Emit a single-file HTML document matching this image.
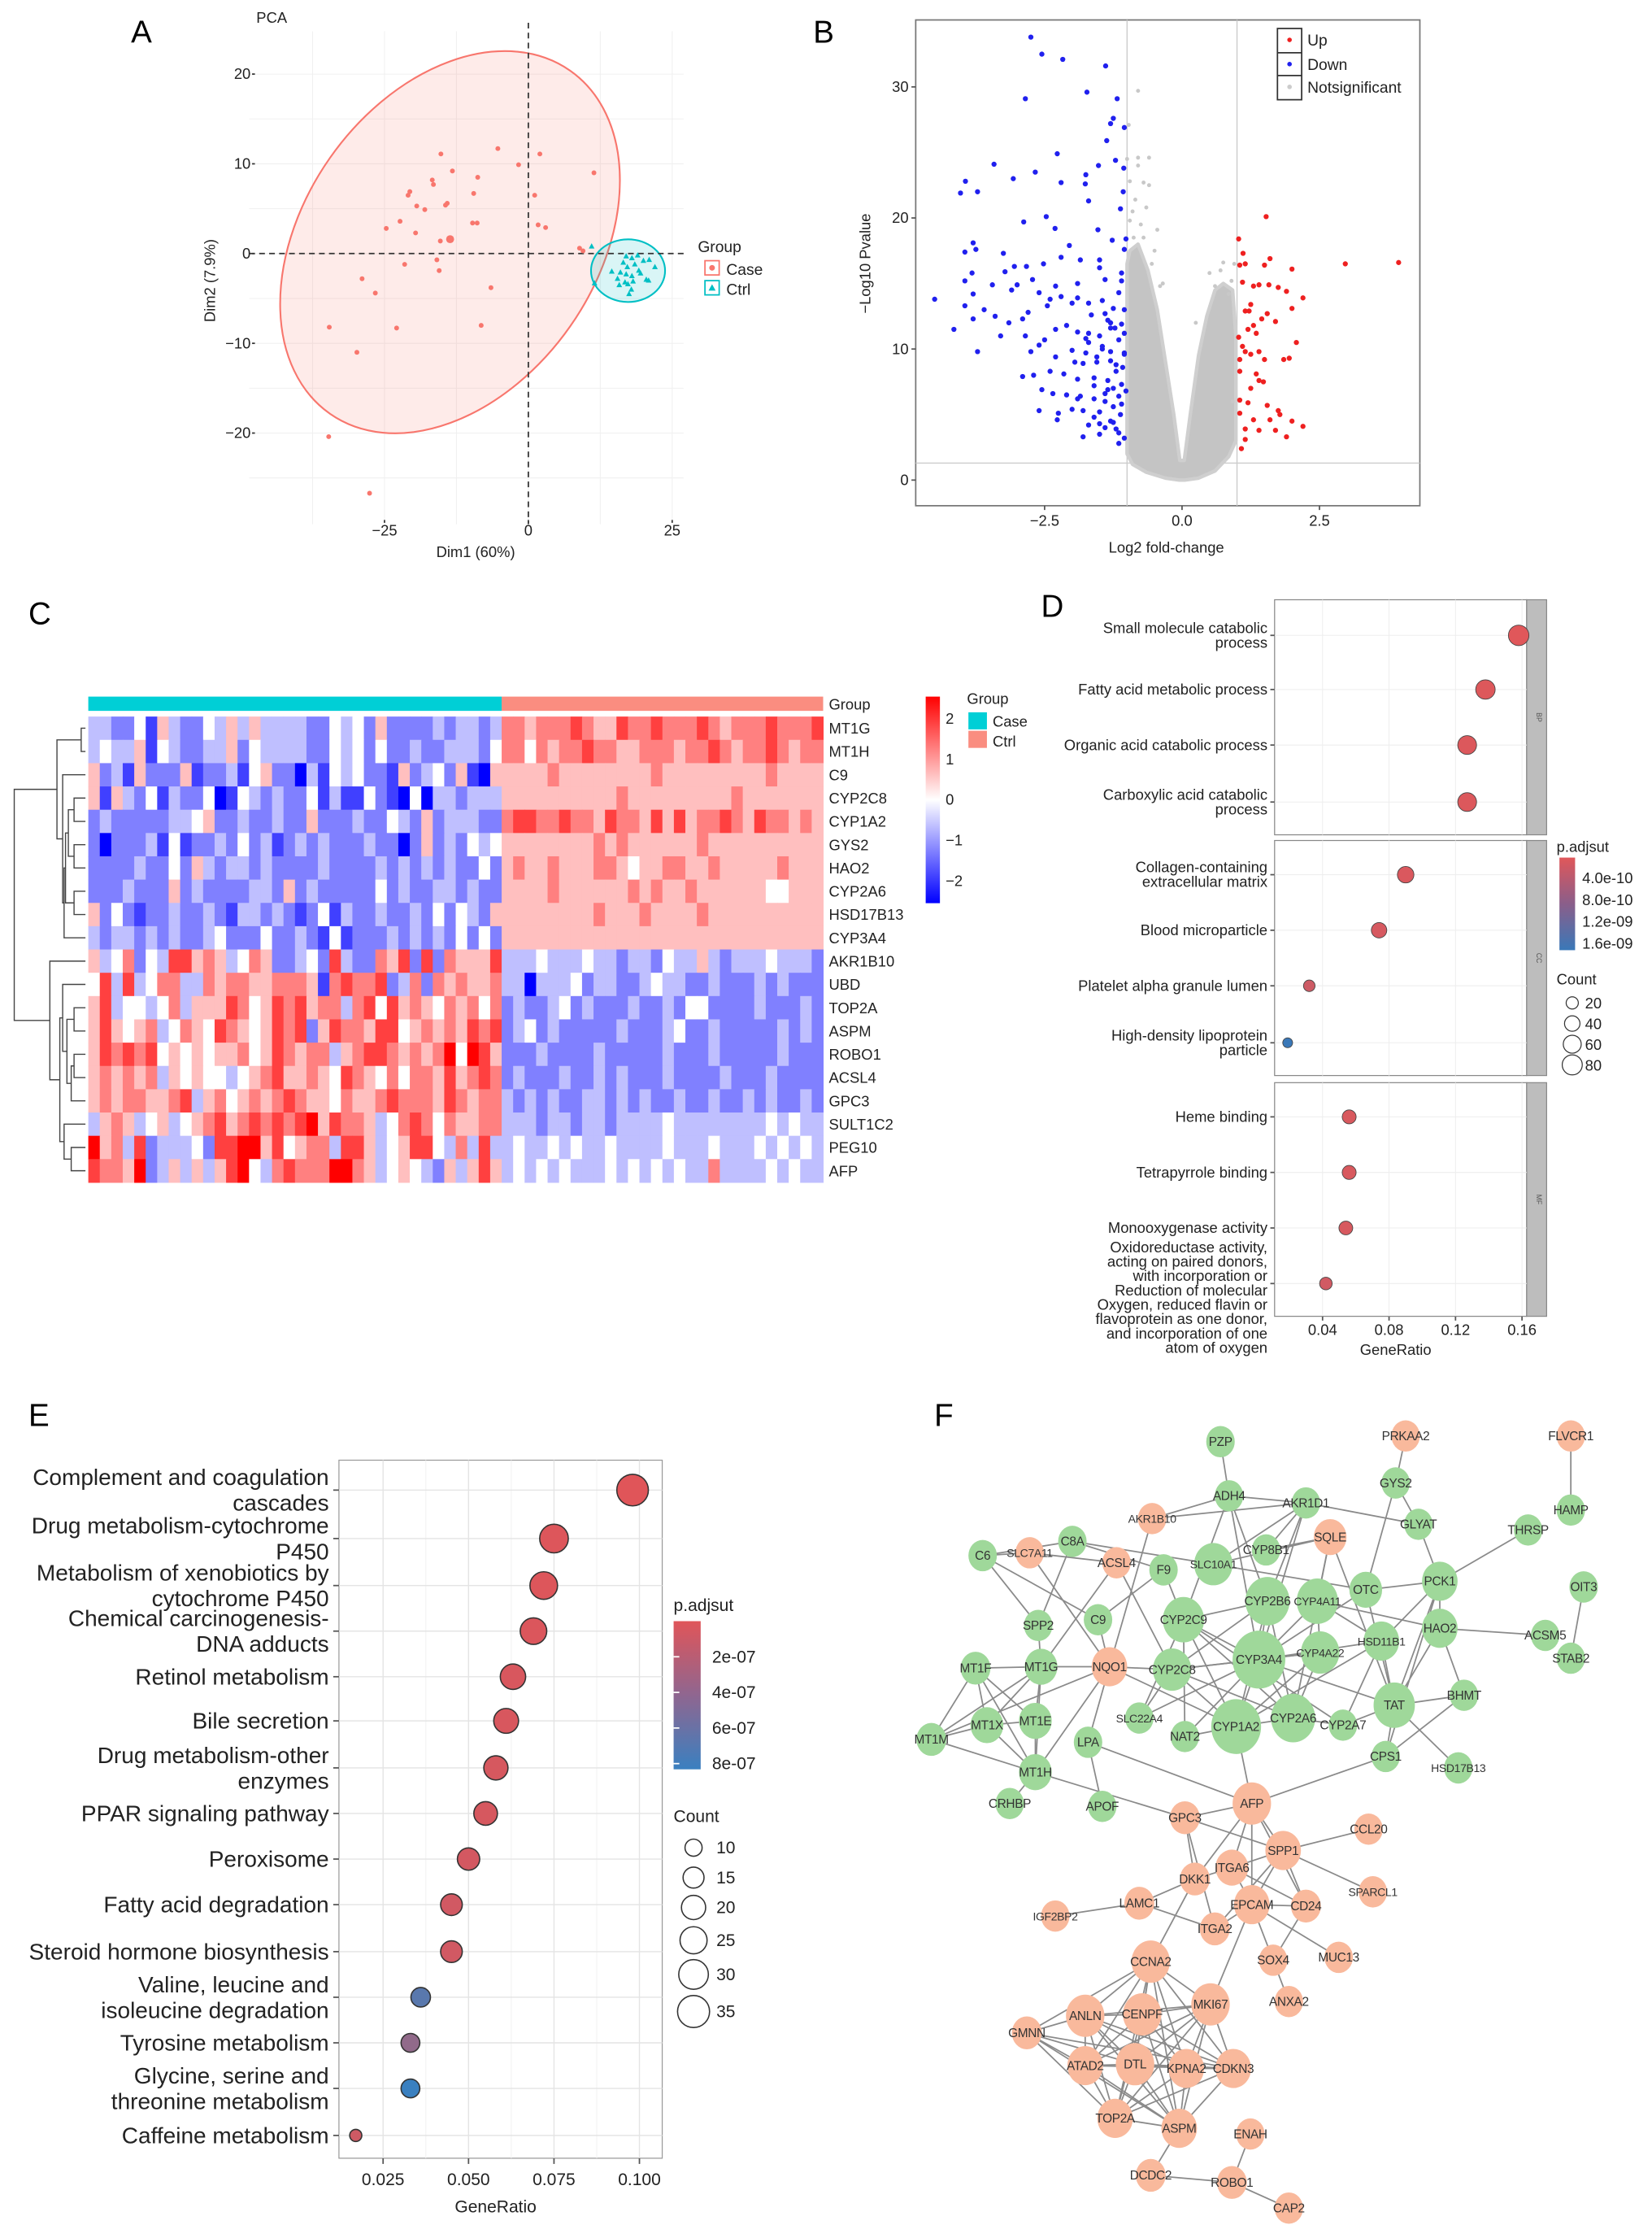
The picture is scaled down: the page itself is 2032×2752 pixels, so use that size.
<!DOCTYPE html>
<html><head><meta charset="utf-8"><style>
html,body{margin:0;padding:0;background:#fff}
svg{display:block;font-family:"Liberation Sans",sans-serif}
</style></head><body>
<svg id="fig" xmlns="http://www.w3.org/2000/svg" width="2032" height="2752" viewBox="0 0 1160 1571" preserveAspectRatio="none">
<rect x="0" y="0" width="1160" height="1571" fill="#fff"/>
<g font-size="22" fill="#000">
<text x="92" y="30">A</text>
<text x="571" y="30">B</text>
<text x="20" y="438">C</text>
<text x="731" y="433">D</text>
<text x="20" y="1001">E</text>
<text x="656" y="1001">F</text>
</g>
<g id="pA"></g>
<g id="pB"></g>
<g id="pC"></g>
<g id="pD"></g>
<g id="pE"></g>
<g id="pF"></g>
</svg>
<script>
// ---------- DATA ----------
// Panel A (PCA)
const pcaCaseX=[-5.3,-15.2,2,-1.7,11.4,-13.2,-8.8,-16.7,-16.5,-20.6,-20.9,-9.5,1.1,-14.1,-14.4,-19.4,-18,-22.3,-9.7,-8.9,1.7,3,-24.7,-19.6,-15.3,-13.6,8.9,9.5,-15.9,-21.5,-15.5,-28.9,-6.5,-26.6,-8.2,-34.6,-22.9,-29.8,-34.7,-27.6];
const pcaCaseY=[11.7,11.1,11.1,9.9,9.0,9.2,8.5,8.2,7.7,6.9,6.5,6.7,6.5,5.6,5.4,5.3,4.9,3.6,3.4,3.4,3.2,2.9,2.8,2.3,1.4,1.6,0.6,0.3,-0.7,-1.2,-1.9,-2.8,-3.8,-4.4,-8,-8.2,-8.3,-11,-20.4,-26.7];
const pcaCtrlX=[11,17,18,19,20,16.5,17.2,18.5,21,22,14.5,15.5,16,17,18,19.5,20.5,16.8,17.3,18.2,15.8,17.9,20.9,11.5,17.5,19.2];
const pcaCtrlY=[0.8,-0.3,-0.5,-0.2,-0.8,-1,-1.5,-1.2,-0.7,-1.5,-2,-2.8,-2.1,-2.3,-2.5,-2.2,-2.9,-3.2,-3.4,-3.1,-3.5,-4.0,-3.0,-3.3,-4.5,-1.9];
const pcaXTicks=[-25,0,25];
const pcaYTicks=[-20,-10,0,10,20];
// Panel B (volcano)
const downX=[-2.75,-2.55,-2.17,-1.39,-2.85,-1.73,-1.18,-1.25,-1.3,-1.05,-1.37,-2.27,-3.42,-1.52,-1.21,-1.06,-2.67,-3.07,-3.94,-4.03,-3.72,-2.2,-1.76,-1.75,-1.7,-1.07,-1.12,-2.47,-2.88,-2.31,-1.53,-1.27,-1.02,-3.8,-3.75,-3.95,-3.25,-2.05,-2.2,-1.85,-1.5,-1.05,-3.05,-2.83,-2.52,-3.22,-3.82,-3.95,-3.45,-3.0,-3.1,-2.72,-2.3,-1.9,-1.4,-1.1,-4.5,-3.8,-3.95,-3.6,-3.8,-3.4,-3.15,-2.8,-2.9,-2.6,-2.4,-2.2,-2.45,-2.0,-1.9,-1.7,-1.45,-1.25,-4.15,-3.3,-2.85,-2.5,-2.3,-2.1,-1.9,-1.7,-1.5,-1.3,-1.1,-1.15,-3.72,-2.75,-2.6,-2.3,-2.0,-1.75,-1.55,-1.3,-1.05,-2.9,-2.7,-2.4,-2.15,-1.9,-1.6,-1.35,-1.1,-2.55,-2.35,-2.1,-1.85,-1.6,-1.4,-1.15,-2.6,-2.25,-2.0,-1.8,-1.5,-1.25,-2.27,-1.7,-1.4,-1.2,-1.8,-1.5,-1.15,-1.05,-1.3,-1.6,-1.2,-1.45,-1.65,-1.35,-1.08,-1.55,-1.25,-1.12,-1.4,-1.7,-1.95,-1.15,-1.5,-1.3,-1.05,-1.2,-1.35,-1.1,-1.45,-1.6,-1.25,-1.05,-1.8,-1.15,-1.4,-1.02,-1.3,-1.5,-1.75,-1.1,-1.22,-1.05,-1.9];
const downY=[33.8,32.5,32.1,31.6,29.1,29.6,29.1,27.6,27.2,26.9,25.9,24.9,24.1,24,24.4,23.8,23.5,23,22.8,21.9,22,22.7,22.6,23.3,21.3,22,20.7,20.1,19.7,19.2,19.1,18.3,18.4,18.1,17.6,17.4,17.3,17.9,17,16.8,16.8,17.6,16.3,16.3,16.5,15.9,15.8,15.2,14.9,14.9,14.5,15.3,14.8,15,15.3,15.2,13.8,14.2,13.3,13,12.3,12.5,12,12.8,12.3,14.3,13.8,14,13.3,13.5,13.9,13.5,13.7,13.1,11.5,11,11,10.7,11.5,11.8,11.3,11.2,11,11.6,11.9,10.7,9.8,9.8,10.3,9.4,9.9,9.7,9.4,9.8,9.6,7.9,8,8.3,8.1,7.7,7.8,7.6,7.3,6.9,6.6,6.5,6.4,6.2,6.6,6.4,5.3,5.1,5.4,5.3,5.2,5.6,4.6,4.2,4.0,3.9,3.3,3.5,2.8,3.2,4.5,4.8,8.8,10.2,12.6,12.2,8.6,9,7,5,6,10.5,9,14.3,16.2,12,11.2,8.3,6.9,5.8,10,7.2,4.4,13,8.9,3.6,12.7,6.8,9.1,4.3,10.8,15.8,11.6,9.7,6.2];
const upX=[1.03,1.53,1.11,1.6,1.05,1.15,1.5,2.0,2.97,3.94,1.1,1.3,1.4,1.58,1.75,1.9,2.2,1.25,1.15,1.22,1.55,2.0,1.45,1.7,1.3,1.2,1.35,1.03,1.1,2.08,1.15,1.25,1.4,1.5,1.85,1.95,1.05,1.05,1.35,1.4,1.48,1.25,1.05,1.2,1.55,1.75,1.78,1.05,1.3,1.6,2.0,2.2,1.15,1.4,1.7,1.9,1.15,1.08];
const upY=[18.4,20.1,17.3,16.9,16.4,16.5,16.4,16.1,16.5,16.6,15.1,14.8,14.9,14.9,14.7,14.4,13.9,13.4,12.9,12.9,12.7,13.1,12.3,12.1,11.8,11.5,11.2,10.9,10.2,10.5,9.8,9.6,9.8,9.2,9.2,9.3,9.2,8.3,8.1,7.6,7.5,7,6.1,5.9,5.7,5.3,5,5.1,4.6,4.6,4.5,4.1,3.9,3.8,3.8,3.3,3.1,2.4];
const nsX=[-0.8,-0.97,-1,-0.8,-0.6,-0.8,-0.95,-0.7,-0.6,-0.85,-0.95,-0.45,-0.7,-0.5,0.5,0.75,0.95,0.9,-0.9,-0.75,-0.65,0.85,0.92,0.7,-0.35,0.25,-0.55,-0.4,-0.88,0.6];
const nsY=[29.7,27.1,24.5,24.6,24.6,24,22.8,22.7,22.5,21.4,19.8,19.1,18.5,17.5,15.8,16.6,16.5,15.2,20.5,19.5,20.8,14.2,6,16,15,12,16.5,14.8,18.5,14.8];
const cloudX=[-1,-1,-0.95,-0.8,-0.62,-0.45,-0.3,-0.15,-0.04,0.04,0.15,0.3,0.45,0.6,0.75,0.92,0.98,0.98,0.85,0.6,0.3,0.05,-0.05,-0.3,-0.65,-0.9];
const cloudY=[2,16.5,17.5,18,16,13,9,5,1.5,1.5,5,9.5,12.5,14.5,15,14.5,11,3,1.8,0.7,0.15,0,0,0.15,0.6,1.2];
const volXTicks=[-2.5,0,2.5];
const volXLabels=["\u22122.5","0.0","2.5"];
const volYTicks=[0,10,20,30];
// Panel C (heatmap) levels 0..8 => -2..2
const genes=["MT1G","MT1H","C9","CYP2C8","CYP1A2","GYS2","HAO2","CYP2A6","HSD17B13","CYP3A4","AKR1B10","UBD","TOP2A","ASPM","ROBO1","ACSL4","GPC3","SULT1C2","PEG10","AFP"];
const heatRows=[
"332241532243535333322434252222323323"+"6656667655766766676566676667",
"343351432233524333322434242232233324"+"6646566766556665667656676566",
"523152225122314522031434221523425105"+"5555655555555655555555565555",
"515324132240143232241311421040332333"+"5555555555655555555565555555",
"232222233452232232252223224325233322"+"6776676657665757566765766565",
"202223141223242312323222322025232434"+"5555555565655555565555555555",
"222232242532332322223222232323232242"+"5655655566545566556555556555",
"222322252322223325232222242322332322"+"5555655555565655655555544555",
"524212232232133232124132232232424325"+"5555555565556555565555555555",
"323323232234222422321412223232324242"+"5555555555555555555555555555",
"534624377565346522342732265727265557"+"3334333433233243353233343332",
"473734663365665566651676672362656556"+"3303334233223433223222323222",
"573443463555764576756636747565465646"+"2322342322232232442222322232",
"575456346547654576725766577456565767"+"2342322222322234223222223232",
"576767454545564576566356776565684875"+"2223222232222232223222223222",
"565656354544345675565476546466575676"+"2322232232322232222322232222",
"565665567356456567655465567666576566"+"3232322332323223223223232232",
"356534534567567676785766534676465566"+"3332332332333343333333343433",
"856372333427788574566377534577436373"+"3433434334333343334333434343",
"766582353535784367666886534543253575"+"3434343334343434336333343433"];
const nCase=36, nCtrl=28;
const heatLegendTicks=[2,1,0,-1,-2];
// Panel D (GO)
const goTerms=[["Small molecule catabolic","process"],["Fatty acid metabolic process"],["Organic acid catabolic process"],["Carboxylic acid catabolic","process"],["Collagen-containing","extracellular matrix"],["Blood microparticle"],["Platelet alpha granule lumen"],["High-density lipoprotein","particle"],["Heme binding"],["Tetrapyrrole binding"],["Monooxygenase activity"],["Oxidoreductase activity,","acting on paired donors,","with incorporation or","Reduction of molecular","Oxygen, reduced flavin or","flavoprotein as one donor,","and incorporation of one","atom of oxygen"]];
const goRatio=[0.158,0.138,0.127,0.127,0.090,0.074,0.032,0.019,0.056,0.056,0.054,0.042];
const goCount=[85,74,68,68,48,40,17,10,30,30,29,22];
const goPadj=[3.0e-10,3.2e-10,3.3e-10,3.3e-10,3.5e-10,3.8e-10,4.5e-10,1.6e-9,3.6e-10,3.6e-10,3.7e-10,4.2e-10];
const goOnto=["BP","BP","BP","BP","CC","CC","CC","CC","MF","MF","MF","MF"];
const goXTicks=[0.04,0.08,0.12,0.16];
// Panel E (KEGG)
const keggTerms=[["Complement and coagulation","cascades"],["Drug metabolism-cytochrome","P450"],["Metabolism of xenobiotics by","cytochrome P450"],["Chemical carcinogenesis-","DNA adducts"],["Retinol metabolism"],["Bile secretion"],["Drug metabolism-other","enzymes"],["PPAR signaling pathway"],["Peroxisome"],["Fatty acid degradation"],["Steroid hormone biosynthesis"],["Valine, leucine and","isoleucine degradation"],["Tyrosine metabolism"],["Glycine, serine and","threonine metabolism"],["Caffeine metabolism"]];
const keggRatio=[0.098,0.075,0.072,0.069,0.063,0.061,0.058,0.055,0.050,0.045,0.045,0.036,0.033,0.033,0.017];
const keggCount=[34,28,26,24,22,21,20,19,17,16,16,13,12,12,5];
const keggPadj=[1.5e-7,1.6e-7,1.6e-7,1.7e-7,1.8e-7,1.8e-7,1.9e-7,1.9e-7,2.0e-7,2.1e-7,2.1e-7,6.8e-7,4.6e-7,8.0e-7,2.2e-7];
const keggXTicks=[0.025,0.050,0.075,0.100];
// Panel F (network)
const nodes=[["PZP",857,1012,"g"],["PRKAA2",987,1008,"o"],["FLVCR1",1103,1008,"o"],["GYS2",980,1041,"g"],["ADH4",863,1050,"g"],["AKR1D1",917,1055,"g"],["HAMP",1103,1060,"g"],["AKR1B10",809,1066,"o"],["GLYAT",996,1070,"g"],["THRSP",1073,1074,"g"],["SQLE",934,1079,"o"],["C8A",753,1082,"g"],["C6",690,1092,"g"],["SLC7A11",723,1090,"o"],["CYP8B1",889,1088,"g"],["ACSL4",784,1097,"o"],["F9",817,1102,"g"],["SLC10A1",852,1098,"g"],["PCK1",1011,1110,"g"],["OIT3",1112,1114,"g"],["OTC",959,1116,"g"],["CYP2B6",890,1124,"g"],["CYP4A11",925,1124,"g"],["CYP2C9",831,1137,"g"],["C9",771,1137,"g"],["SPP2",729,1141,"g"],["HAO2",1011,1143,"g"],["ACSM5",1085,1148,"g"],["HSD11B1",970,1152,"g"],["CYP3A4",884,1165,"g"],["CYP4A22",927,1160,"g"],["STAB2",1103,1164,"g"],["MT1F",685,1171,"g"],["MT1G",731,1170,"g"],["NQO1",779,1170,"o"],["CYP2C8",823,1172,"g"],["BHMT",1028,1190,"g"],["TAT",979,1197,"g"],["MT1X",693,1211,"g"],["MT1E",727,1208,"g"],["SLC22A4",800,1206,"g"],["NAT2",832,1219,"g"],["CYP1A2",868,1212,"g"],["CYP2A6",908,1206,"g"],["CYP2A7",943,1211,"g"],["MT1M",654,1221,"g"],["LPA",764,1223,"g"],["CPS1",973,1233,"g"],["HSD17B13",1024,1241,"g"],["MT1H",727,1244,"g"],["CRHBP",709,1266,"g"],["APOF",774,1268,"g"],["GPC3",832,1276,"o"],["AFP",879,1266,"o"],["CCL20",961,1284,"o"],["SPP1",901,1299,"o"],["ITGA6",865,1311,"o"],["DKK1",839,1319,"o"],["SPARCL1",964,1328,"o"],["LAMC1",800,1336,"o"],["EPCAM",879,1337,"o"],["CD24",917,1338,"o"],["IGF2BP2",741,1345,"o"],["ITGA2",853,1354,"o"],["SOX4",894,1376,"o"],["MUC13",940,1374,"o"],["CCNA2",808,1377,"o"],["ANXA2",905,1405,"o"],["MKI67",850,1407,"o"],["ANLN",762,1415,"o"],["CENPF",802,1414,"o"],["GMNN",721,1427,"o"],["ATAD2",762,1450,"o"],["DTL",797,1449,"o"],["KPNA2",833,1452,"o"],["CDKN3",866,1452,"o"],["TOP2A",783,1487,"o"],["ASPM",828,1494,"o"],["ENAH",878,1498,"o"],["DCDC2",808,1527,"o"],["ROBO1",865,1532,"o"],["CAP2",905,1550,"o"]];
const bigNodes={"CYP3A4":18,"CYP1A2":17,"CYP2A6":15,"CYP2B6":15,"CYP4A11":14,"CYP2C9":14,"CYP2C8":13,"TAT":14,"SLC10A1":13,"AFP":13,"CCNA2":13,"MKI67":13,"ANLN":13,"CENPF":13,"DTL":13,"ATAD2":12,"TOP2A":12,"ASPM":12,"KPNA2":12,"CDKN3":12,"EPCAM":12,"SPP1":12,"NQO1":12,"HSD11B1":12,"CYP4A22":13,"PCK1":12,"HAO2":12,"OTC":11,"MT1G":11,"MT1H":11,"MT1E":11,"MT1X":11,"MT1F":10,"MT1M":10,"SQLE":11,"ITGA6":11,"ITGA2":10,"CD24":10,"DKK1":10,"GPC3":10,"LAMC1":10,"GMNN":10,"ROBO1":10,"DCDC2":10};
const edgeText="PZP-ADH4 PRKAA2-GYS2 FLVCR1-HAMP GYS2-GLYAT GYS2-OTC ADH4-AKR1B10 ADH4-AKR1D1 AKR1B10-AKR1D1 AKR1D1-GLYAT AKR1B10-NQO1 AKR1D1-CYP8B1 AKR1D1-SLC10A1 AKR1D1-CYP2B6 AKR1D1-CYP3A4 ADH4-CYP2B6 ADH4-CYP3A4 ADH4-CYP2C9 GLYAT-PCK1 THRSP-PCK1 C6-SLC7A11 C6-C8A C6-SPP2 C6-C9 C8A-F9 C8A-SPP2 SLC7A11-ACSL4 SLC7A11-NQO1 C8A-SLC10A1 SLC10A1-SQLE CYP8B1-SQLE SLC10A1-OTC F9-C9 F9-CYP2C9 ACSL4-MT1G ACSL4-CYP2C8 SQLE-CYP4A11 SQLE-TAT SQLE-CYP2A6 OTC-PCK1 OTC-TAT OTC-CYP3A4 PCK1-HAO2 PCK1-TAT PCK1-HSD11B1 PCK1-CPS1 HAO2-ACSM5 HAO2-CYP4A11 HAO2-BHMT HAO2-TAT OIT3-STAB2 CYP2B6-CYP2C9 CYP2B6-CYP3A4 CYP2B6-CYP1A2 CYP2B6-CYP2A6 CYP2B6-CYP2C8 CYP4A11-CYP4A22 CYP4A11-HSD11B1 CYP4A11-CYP3A4 CYP2C9-CYP3A4 CYP2C9-CYP1A2 CYP2C9-CYP2A6 CYP2C9-SLC22A4 CYP2C9-NAT2 CYP2C9-CYP2A7 CYP3A4-CYP2C8 CYP3A4-CYP1A2 CYP3A4-CYP2A6 CYP3A4-CYP4A22 CYP3A4-NAT2 CYP3A4-HSD11B1 CYP3A4-TAT CYP3A4-SLC22A4 CYP2C8-CYP1A2 CYP2C8-CYP2A6 CYP2C8-NQO1 CYP2C8-SLC22A4 CYP2C8-CYP4A22 CYP1A2-CYP2A6 CYP1A2-NAT2 CYP1A2-HSD11B1 CYP1A2-CYP4A22 CYP1A2-AFP CYP2A6-CYP2A7 CYP2A6-CYP4A22 CYP2A7-TAT CYP2A7-HSD11B1 TAT-BHMT TAT-CPS1 TAT-HSD17B13 TAT-HSD11B1 BHMT-CPS1 CPS1-AFP NQO1-MT1G MT1F-MT1G MT1F-MT1M MT1F-MT1X MT1F-MT1E MT1F-MT1H MT1G-MT1X MT1G-MT1M MT1G-MT1E MT1G-MT1H MT1X-MT1E MT1X-MT1M MT1X-MT1H MT1E-MT1H MT1M-MT1H MT1M-NQO1 MT1H-NQO1 MT1H-GPC3 MT1H-CRHBP NQO1-CYP1A2 NQO1-LPA SPP2-MT1G C9-NQO1 LPA-APOF LPA-AFP AFP-GPC3 AFP-SPP1 AFP-ITGA6 AFP-DKK1 AFP-EPCAM AFP-CD24 GPC3-SPP1 GPC3-DKK1 GPC3-ITGA2 SPP1-CCL20 SPP1-SPARCL1 SPP1-ITGA6 SPP1-EPCAM SPP1-CD24 SPP1-ITGA2 ITGA6-EPCAM ITGA6-DKK1 ITGA6-CD24 DKK1-LAMC1 DKK1-CCNA2 LAMC1-IGF2BP2 LAMC1-ITGA2 EPCAM-CD24 EPCAM-ITGA2 EPCAM-SOX4 EPCAM-MUC13 EPCAM-MKI67 CD24-SOX4 SOX4-ANXA2 CCNA2-ANLN CCNA2-CENPF CCNA2-MKI67 CCNA2-GMNN CCNA2-ATAD2 CCNA2-DTL CCNA2-KPNA2 CCNA2-CDKN3 CCNA2-TOP2A CCNA2-ASPM ANLN-CENPF ANLN-GMNN ANLN-ATAD2 ANLN-DTL ANLN-KPNA2 ANLN-CDKN3 ANLN-TOP2A ANLN-ASPM ANLN-MKI67 CENPF-MKI67 CENPF-DTL CENPF-ATAD2 CENPF-KPNA2 CENPF-CDKN3 CENPF-TOP2A CENPF-ASPM MKI67-DTL MKI67-KPNA2 MKI67-CDKN3 MKI67-TOP2A MKI67-ASPM MKI67-ATAD2 GMNN-ATAD2 GMNN-DTL GMNN-TOP2A GMNN-ASPM GMNN-CDKN3 ATAD2-DTL ATAD2-TOP2A ATAD2-ASPM ATAD2-CDKN3 DTL-KPNA2 DTL-TOP2A DTL-ASPM DTL-CDKN3 KPNA2-CDKN3 KPNA2-ASPM KPNA2-TOP2A CDKN3-ASPM CDKN3-TOP2A TOP2A-ASPM ASPM-DCDC2 DCDC2-ROBO1 ROBO1-ENAH ROBO1-CAP2";

// ---------- HELPERS ----------
const NS="http://www.w3.org/2000/svg";
function el(parent,tag,attrs){const e=document.createElementNS(NS,tag);for(const k in attrs)e.setAttribute(k,attrs[k]);parent.appendChild(e);return e;}
function txt(parent,x,y,s,size,anchor,extra){const t=el(parent,"text",Object.assign({x:x,y:y,"font-size":size,"text-anchor":anchor||"start",fill:"#222"},extra||{}));t.textContent=s;return t;}
function lerpColor(c1,c2,t){const a=[parseInt(c1.slice(1,3),16),parseInt(c1.slice(3,5),16),parseInt(c1.slice(5,7),16)],b=[parseInt(c2.slice(1,3),16),parseInt(c2.slice(3,5),16),parseInt(c2.slice(5,7),16)];return "rgb("+a.map((v,i)=>Math.round(v+(b[i]-v)*t)).join(",")+")";}

// ---------- PANEL A ----------
(function(){
const g=document.getElementById("pA");
const sx=v=>371+v*4.04, sy=v=>178-v*6.3;
for(let v=-37.5;v<=25;v+=12.5){const l=el(g,"line",{x1:sx(v),x2:sx(v),y1:22,y2:368,stroke:"#f0f0f0","stroke-width":0.6});}
for(let v=-25;v<=20;v+=5){const l=el(g,"line",{x1:175,x2:480,y1:sy(v),y2:sy(v),stroke:"#f0f0f0","stroke-width":0.6});}
const ce=el(g,"ellipse",{cx:316,cy:170,rx:147,ry:103,transform:"rotate(-55 316 170)",fill:"#f8766d",'fill-opacity':0.15,stroke:"#f8766d","stroke-width":1.2});

const ct=el(g,"ellipse",{cx:441,cy:190,rx:26,ry:22,fill:"#00bfc4",'fill-opacity':0.15,stroke:"#00bfc4","stroke-width":1.2});

el(g,"line",{x1:sx(0),x2:sx(0),y1:16,y2:368,stroke:"#333","stroke-dasharray":"4,3","stroke-width":1});
el(g,"line",{x1:175,x2:482,y1:sy(0),y2:sy(0),stroke:"#333","stroke-dasharray":"4,3","stroke-width":1});
pcaCaseX.forEach((x,i)=>{const c=el(g,"circle",{cx:sx(x),cy:sy(pcaCaseY[i]),r:i===25?2.8:1.7,fill:"#f8766d"});});
pcaCtrlX.forEach((x,i)=>{const X=sx(x),Y=sy(pcaCtrlY[i]);const p=el(g,"polygon",{points:`${X},${Y-2.2} ${X-2},${Y+1.5} ${X+2},${Y+1.5}`,fill:"#00bfc4"});});
pcaXTicks.forEach(v=>{txt(g,sx(v),376,v<0?"\u2212"+(-v):String(v),10.5,"middle");el(g,"line",{x1:sx(v),x2:sx(v),y1:365,y2:367,stroke:"#333"});});
pcaYTicks.forEach(v=>{txt(g,176,sy(v)+3.5,v<0?"\u2212"+(-v):String(v),10.5,"end");el(g,"line",{x1:177,x2:179,y1:sy(v),y2:sy(v),stroke:"#333"});});
const t1=txt(g,334,391,"Dim1 (60%)",10.5,"middle");
const t2=txt(g,151,197,"Dim2 (7.9%)",10.5,"middle",{transform:"rotate(-90 151 197)"});
const t3=txt(g,180,16,"PCA",10.5,"start");
txt(g,490,177,"Group",11,"start");
const l1=el(g,"rect",{x:495,y:183,width:10,height:10,fill:"none",stroke:"#f8766d"});
el(g,"circle",{cx:500,cy:188,r:2,fill:"#f8766d"});txt(g,510,193,"Case",11);
const l2=el(g,"rect",{x:495,y:197,width:10,height:10,fill:"none",stroke:"#00bfc4"});
el(g,"polygon",{points:"500,199.5 497.5,204 502.5,204",fill:"#00bfc4"});txt(g,510,207,"Ctrl",11);
})();

// ---------- PANEL B ----------
(function(){
const g=document.getElementById("pB");
const sx=v=>830+v*38.6, sy=v=>337-v*9.2;
const fr=el(g,"rect",{x:643,y:14,width:354,height:341,fill:"#fff",stroke:"#777","stroke-width":1});
el(g,"line",{x1:sx(-1),x2:sx(-1),y1:14,y2:355,stroke:"#ccc","stroke-width":0.8});
el(g,"line",{x1:sx(1),x2:sx(1),y1:14,y2:355,stroke:"#ccc","stroke-width":0.8});
el(g,"line",{x1:643,x2:997,y1:sy(1.3),y2:sy(1.3),stroke:"#ccc","stroke-width":0.8});
const cp=el(g,"polygon",{points:cloudX.map((x,i)=>sx(x)+","+sy(cloudY[i])).join(" "),fill:"#c4c4c4",stroke:"#cfcfcf","stroke-width":2.5,"stroke-linejoin":"round"});
nsX.forEach((x,i)=>{const c=el(g,"circle",{cx:sx(x),cy:sy(nsY[i]),r:1.4,fill:"#c8c8c8"});});
downX.forEach((x,i)=>{const c=el(g,"circle",{cx:sx(x),cy:sy(downY[i]),r:1.8,fill:"#2020ee"});});
upX.forEach((x,i)=>{const c=el(g,"circle",{cx:sx(x),cy:sy(upY[i]),r:1.8,fill:"#ee2020"});});
volXTicks.forEach((v,i)=>{el(g,"line",{x1:sx(v),x2:sx(v),y1:355,y2:358,stroke:"#555"});txt(g,sx(v),369,volXLabels[i],10.5,"middle");});
volYTicks.forEach(v=>{el(g,"line",{x1:640,x2:643,y1:sy(v),y2:sy(v),stroke:"#555"});txt(g,638,sy(v)+3.5,String(v),10.5,"end");});
const xt=txt(g,819,388,"Log2 fold-change",10.5,"middle");
const yt=txt(g,611,185,"\u2212Log10 Pvalue",10.5,"middle",{transform:"rotate(-90 611 185)"});
const lg=el(g,"rect",{x:897,y:20,width:17,height:50,fill:"#fff",stroke:"#333","stroke-width":1});
el(g,"line",{x1:897,x2:914,y1:37,y2:37,stroke:"#333"});el(g,"line",{x1:897,x2:914,y1:53,y2:53,stroke:"#333"});
el(g,"circle",{cx:905.5,cy:28,r:1.6,fill:"#ee2020"});el(g,"circle",{cx:905.5,cy:45,r:1.6,fill:"#2020ee"});el(g,"circle",{cx:905.5,cy:61,r:1.6,fill:"#ccc"});
txt(g,918,32,"Up",11);txt(g,918,49,"Down",11);txt(g,918,65,"Notsignificant",11);
})();

// ---------- PANEL C ----------
(function(){
const g=document.getElementById("pC");
const x0=62,x1=578,y0=503,y1=830,nc=nCase+nCtrl,cw=(x1-x0)/nc,rh=(y1-y0)/genes.length;
const cmap=v=>v<0?lerpColor("#ffffff","#0000ff",Math.min(1,-v/2)):lerpColor("#ffffff","#ff0000",Math.min(1,v/2));
const gb1=el(g,"rect",{x:x0,y:489,width:cw*nCase,height:10,fill:"#00cfd6"});
const gb2=el(g,"rect",{x:x0+cw*nCase,y:489,width:cw*nCtrl,height:10,fill:"#fa8d80"});
txt(g,582,498,"Group",10.5);
heatRows.forEach((row,r)=>{
 for(let c=0;c<nc;c++){const lv=parseInt(row[c]||"4",10);const v=(lv-4)/2;
  const rc=el(g,"rect",{x:x0+c*cw,y:y0+r*rh,width:cw+0.3,height:rh+0.3,fill:cmap(v)});
  
  }
 const t=txt(g,582,y0+r*rh+rh/2+3.8,genes[r],10.5);
});
const merges=[[0,1,57],[3,4,52],[5,6,52],[7,8,52],[21,22,48],[24,23,46],[25,9,45],[2,26,44],[20,27,40],[12,13,52],[14,15,52],[30,16,50],[29,31,47],[11,32,44],[18,19,50],[17,34,45],[33,35,42],[10,36,35],[28,37,10]];
const pos={};for(let i=0;i<20;i++)pos[i]={x:60,y:y0+i*rh+rh/2};
merges.forEach((m,k)=>{const a=pos[m[0]],b=pos[m[1]],x=m[2];
 el(g,"path",{d:`M${a.x},${a.y}H${x}V${b.y}H${b.x}`,fill:"none",stroke:"#444","stroke-width":0.8});
 pos[20+k]={x:x,y:(a.y+b.y)/2};});
const defs=el(g,"defs",{});const lgd=el(defs,"linearGradient",{id:"hmgrad",x1:0,y1:0,x2:0,y2:1});
[["0","#ff0000"],["0.5","#ffffff"],["1","#0000ff"]].forEach(s=>el(lgd,"stop",{offset:s[0],"stop-color":s[1]}));
const cb=el(g,"rect",{x:650,y:489,width:10,height:145,fill:"url(#hmgrad)"});
heatLegendTicks.forEach(v=>{const y=561-v*28.5;txt(g,664,y+4,v<0?"\u2212"+(-v):String(v),10.5);});
txt(g,679,494,"Group",10.5);
el(g,"rect",{x:680,y:500,width:13,height:12,fill:"#00cfd6"});txt(g,697,510,"Case",10.5);
el(g,"rect",{x:680,y:513,width:13,height:12,fill:"#fa8d80"});txt(g,697,524,"Ctrl",10.5);
})();

// ---------- PANEL D ----------
(function(){
const g=document.getElementById("pD");
const sx=v=>882+v*1167;
const facets={BP:[421,586],CC:[590,755],MF:[760,924]};
const padjCol=p=>{const t=Math.min(1,Math.max(0,(p-3e-10)/(1.6e-9-3e-10)));return lerpColor("#e0575a","#3a78b8",t);};
for(const f in facets){const [a,b]=facets[f];
 const pr=el(g,"rect",{x:895,y:a,width:177,height:b-a,fill:"#fff",stroke:"#888","stroke-width":0.7});
 const st=el(g,"rect",{x:1072,y:a,width:14,height:b-a,fill:"#bdbdbd",stroke:"#888","stroke-width":0.7});
 txt(g,1079,(a+b)/2,f,5,"middle",{transform:`rotate(90 1079 ${(a+b)/2})`,fill:"#555"});
 goXTicks.forEach(v=>el(g,"line",{x1:sx(v),x2:sx(v),y1:a,y2:b,stroke:"#eee","stroke-width":0.6}));}
const rowY=[446,484,523,563,614,653,692,732,784,823,862,901];
goRatio.forEach((r,i)=>{
 el(g,"line",{x1:895,x2:1072,y1:rowY[i],y2:rowY[i],stroke:"#eee","stroke-width":0.6});
 const c=el(g,"circle",{cx:sx(r),cy:rowY[i],r:1.5+Math.sqrt(goCount[i])*0.62,fill:padjCol(goPadj[i]),stroke:"#444","stroke-width":0.5});
 
 
 const lines=goTerms[i];
 let lh=10.3, start=rowY[i]-(lines.length-1)*lh/2+3.5;
 if(lines.length>2){lh=10.1;start=879;}
 lines.forEach((s,k)=>{const t=txt(g,890,start+k*lh,s,10.5,"end");});
 el(g,"line",{x1:892,x2:895,y1:rowY[i],y2:rowY[i],stroke:"#555"});
});
goXTicks.forEach(v=>{el(g,"line",{x1:sx(v),x2:sx(v),y1:924,y2:927,stroke:"#555"});txt(g,sx(v),937,String(v),10.5,"middle");});
const xt=txt(g,980,951,"GeneRatio",10.5,"middle");
txt(g,1093,598,"p.adjsut",10.5);
const defs=el(g,"defs",{});const lg=el(defs,"linearGradient",{id:"godgrad",x1:0,y1:0,x2:0,y2:1});
[["0","#e0575a"],["0.5","#8a5e8a"],["1","#3a78b8"]].forEach(s=>el(lg,"stop",{offset:s[0],"stop-color":s[1]}));
el(g,"rect",{x:1095,y:602,width:11,height:65,fill:"url(#godgrad)"});
["4.0e-10","8.0e-10","1.2e-09","1.6e-09"].forEach((s,i)=>txt(g,1111,620+i*15.3,s,10.5));
txt(g,1093,691,"Count",10.5);
[20,40,60,80].forEach((c,i)=>{el(g,"circle",{cx:1104,cy:704+i*14.5,r:1.5+Math.sqrt(c)*0.62,fill:"none",stroke:"#333","stroke-width":0.7});txt(g,1113,708+i*14.5,String(c),10.5);});
})();

// ---------- PANEL E ----------
(function(){
const g=document.getElementById("pE");
const sx=v=>209+v*2400;
const padjCol=p=>{const t=Math.min(1,Math.max(0,(p-1.5e-7)/(8e-7-1.5e-7)));return lerpColor("#e05559","#3a80c0",t);};
const pr=el(g,"rect",{x:238,y:1025,width:227,height:490,fill:"#fff",stroke:"#999","stroke-width":0.7});
[0.0375,0.0625,0.0875].forEach(v=>el(g,"line",{x1:sx(v),x2:sx(v),y1:1025,y2:1515,stroke:"#f2f2f2","stroke-width":0.6}));
keggXTicks.forEach(v=>el(g,"line",{x1:sx(v),x2:sx(v),y1:1025,y2:1515,stroke:"#e4e4e4","stroke-width":0.8}));
const rowY=[1046,1080,1113,1145,1177,1208,1241,1273,1305,1337,1370,1402,1434,1466,1499];
keggRatio.forEach((r,i)=>{
 el(g,"line",{x1:238,x2:465,y1:rowY[i],y2:rowY[i],stroke:"#e4e4e4","stroke-width":0.8});
 el(g,"line",{x1:234,x2:238,y1:rowY[i],y2:rowY[i],stroke:"#555"});
 const c=el(g,"circle",{cx:sx(r),cy:rowY[i],r:1.9*Math.sqrt(keggCount[i]),fill:padjCol(keggPadj[i]),stroke:"#333","stroke-width":0.9});
 
 
 const lines=keggTerms[i];const lh=18;const start=rowY[i]-(lines.length-1)*lh/2+5.5;
 lines.forEach((s,k)=>{const t=txt(g,231,start+k*lh,s,16,"end");});
});
keggXTicks.forEach(v=>{el(g,"line",{x1:sx(v),x2:sx(v),y1:1515,y2:1519,stroke:"#555"});txt(g,sx(v),1534,v.toFixed(3),12,"middle");});
const xt=txt(g,348,1553,"GeneRatio",12,"middle");
txt(g,473,1131,"p.adjsut",12);
const defs=el(g,"defs",{});const lg=el(defs,"linearGradient",{id:"keggrad",x1:0,y1:0,x2:0,y2:1});
[["0","#e05559"],["0.5","#8f6690"],["1","#3a80c0"]].forEach(s=>el(lg,"stop",{offset:s[0],"stop-color":s[1]}));
el(g,"rect",{x:473,y:1138,width:19,height:104,fill:"url(#keggrad)"});
["2e-07","4e-07","6e-07","8e-07"].forEach((s,i)=>{txt(g,500,1167+i*25,s,12);el(g,"line",{x1:473,x2:477,y1:1163+i*25,y2:1163+i*25,stroke:"#fff"});});
txt(g,473,1279,"Count",12);
[10,15,20,25,30,35].forEach((c,i)=>{const cy=[1297,1318,1339,1362,1386,1412][i];el(g,"circle",{cx:487,cy:cy,r:1.9*Math.sqrt(c),fill:"none",stroke:"#333","stroke-width":0.9});txt(g,503,cy+4,String(c),12);});
})();

// ---------- PANEL F ----------
(function(){
const g=document.getElementById("pF");
const idx={};nodes.forEach((n,i)=>idx[n[0]]=n);
const eg=el(g,"g",{});
edgeText.split(" ").forEach(e=>{const [a,b]=e.split("-");const A=idx[a],B=idx[b];if(!A||!B)return;
 const l=el(eg,"line",{x1:A[1],y1:A[2],x2:B[1],y2:B[2],stroke:"#8a8a8a","stroke-width":1});
 
 });
nodes.forEach(n=>{const r=(bigNodes[n[0]]||9.5)+0.5;
 const c=el(g,"ellipse",{cx:n[1],cy:n[2],rx:r,ry:r*1.1,fill:n[3]==="g"?"#9fd89a":"#f9b99c"});
 
 
 const fs=n[0].length>6?8:8.8;
 const t=txt(g,n[1],n[2]+3,n[0],fs,"middle",{fill:"#333","letter-spacing":"-0.2"});
 
 });
})();
</script>
</body></html>
